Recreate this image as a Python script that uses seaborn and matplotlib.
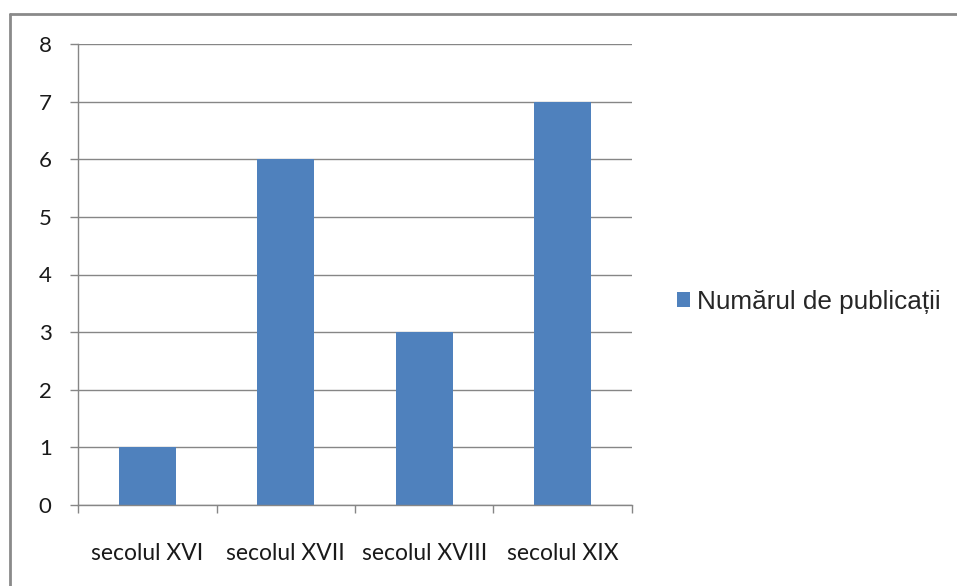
import pandas as pd
import matplotlib.pyplot as plt
import seaborn as sns
from matplotlib.lines import Line2D
from matplotlib.patches import Patch

# Data
categories = ['secolul XVI', 'secolul XVII', 'secolul XVIII', 'secolul XIX']
values = [1, 6, 3, 7]
series_name = 'Numărul de publicații'

df = pd.DataFrame({'secol': categories, 'numar': values})

sns.set_style('white')
plt.rcParams['font.family'] = ['Lato', 'DejaVu Sans']

W, H = 957, 586
fig = plt.figure(figsize=(W / 100, H / 100), dpi=100)
ax = fig.add_axes([78 / W, (H - 505) / H, 554 / W, 461 / H])

sns.barplot(data=df, x='secol', y='numar', color='#4F81BD', width=0.41,
            saturation=1, linewidth=0, ax=ax)

ax.set_ylim(0, 8)
ax.set_xlim(-0.5, len(categories) - 0.5)
ax.set_yticks(range(0, 9))
ax.yaxis.grid(True, color='#868686', linewidth=1)
ax.set_axisbelow(True)
ax.set_xlabel('')
ax.set_ylabel('')

for side in ['top', 'right']:
    ax.spines[side].set_visible(False)
for side in ['left', 'bottom']:
    ax.spines[side].set_color('#868686')
    ax.spines[side].set_linewidth(1)

# ticks: y outward, x ticks only at category boundaries
ax.tick_params(axis='y', which='major', length=6, color='#868686', width=1,
               labelsize=16, pad=13, left=True, labelcolor='#1a1a1a')
ax.set_xticks([i - 0.5 for i in range(len(categories) + 1)], minor=True)
ax.tick_params(axis='x', which='minor', length=6, color='#868686', width=1,
               bottom=True)
ax.tick_params(axis='x', which='major', length=0, labelsize=16.5, pad=27,
               labelcolor='#1a1a1a')

# legend
handle = Patch(facecolor='#4F81BD', edgecolor='none')
fig.legend([handle], [series_name], loc='center left',
           bbox_to_anchor=(653 / W, 1 - 302 / H), frameon=False,
           prop={'family': 'Liberation Sans', 'size': 18.8},
           handlelength=0.52, handleheight=0.52, handletextpad=0.28)

# outer border (chart area frame)
fig.add_artist(Line2D([10 / W, 1.0], [1 - 14 / H, 1 - 14 / H],
                      color='#8a8a8a', linewidth=2, transform=fig.transFigure))
fig.add_artist(Line2D([10 / W, 10 / W], [0, 1 - 14 / H],
                      color='#8a8a8a', linewidth=2, transform=fig.transFigure))

fig.savefig('out.png', dpi=100)
